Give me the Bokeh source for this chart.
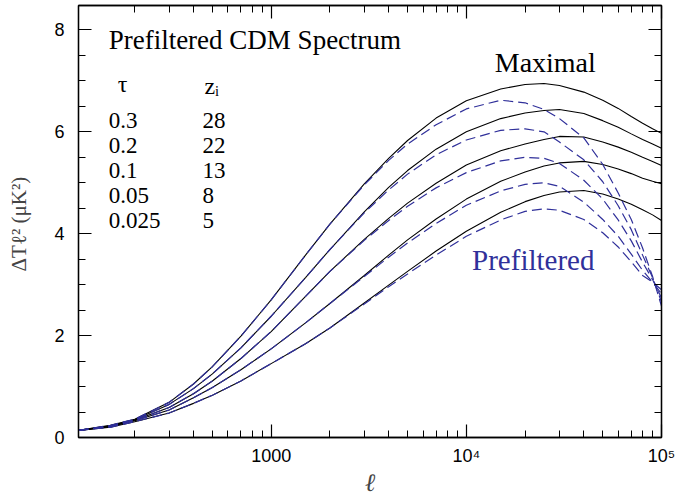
from bokeh.plotting import figure
from bokeh.models import LogAxis, LinearAxis, FixedTicker, Label, ColumnDataSource, Range1d
from bokeh.core.properties import value
from bokeh.embed import file_html
from bokeh.resources import INLINE

# multipole l
ell = [103, 150, 200, 300, 400, 500, 700, 1000, 1500, 2000, 3000, 4000, 5000, 7000,
       10000, 15000, 20000, 25000, 30000, 40000, 50000, 60000, 70000, 80000, 90000, 100000]

# Maximal (solid) spectra, one per tau
max_tau_030 = [0.14, 0.24, 0.36, 0.69, 1.05, 1.39, 1.99, 2.70, 3.58, 4.19, 4.98, 5.48, 5.83, 6.27,
               6.61, 6.84, 6.93, 6.95, 6.91, 6.78, 6.62, 6.46, 6.30, 6.17, 6.06, 5.97]
max_tau_020 = [0.14, 0.23, 0.35, 0.65, 0.96, 1.25, 1.76, 2.38, 3.14, 3.69, 4.43, 4.91, 5.24, 5.66,
               6.00, 6.26, 6.37, 6.42, 6.44, 6.36, 6.22, 6.09, 5.96, 5.85, 5.76, 5.68]
max_tau_010 = [0.14, 0.22, 0.34, 0.59, 0.86, 1.11, 1.55, 2.08, 2.77, 3.26, 3.89, 4.30, 4.60, 4.99,
               5.35, 5.63, 5.76, 5.85, 5.91, 5.90, 5.80, 5.70, 5.60, 5.50, 5.42, 5.34]
max_tau_005 = [0.14, 0.21, 0.33, 0.54, 0.78, 0.98, 1.33, 1.74, 2.25, 2.63, 3.18, 3.58, 3.88, 4.29,
               4.68, 5.03, 5.21, 5.33, 5.39, 5.42, 5.36, 5.27, 5.18, 5.09, 5.03, 4.98]
max_tau_0025 = [0.14, 0.20, 0.31, 0.48, 0.67, 0.83, 1.11, 1.45, 1.84, 2.15, 2.64, 2.99, 3.26, 3.66,
                4.05, 4.42, 4.63, 4.75, 4.82, 4.85, 4.78, 4.68, 4.58, 4.47, 4.37, 4.26]

# Prefiltered (dashed) spectra
pre_tau_030 = [0.14, 0.24, 0.36, 0.69, 1.05, 1.39, 1.99, 2.70, 3.58, 4.19, 4.96, 5.44, 5.76, 6.14,
               6.45, 6.62, 6.57, 6.44, 6.26, 5.88, 5.36, 4.80, 4.28, 3.72, 3.16, 2.58]
pre_tau_020 = [0.14, 0.23, 0.35, 0.65, 0.96, 1.25, 1.76, 2.38, 3.14, 3.69, 4.41, 4.86, 5.17, 5.55,
               5.84, 6.03, 6.06, 6.00, 5.80, 5.45, 5.02, 4.55, 4.08, 3.58, 3.14, 2.66]
pre_tau_010 = [0.14, 0.22, 0.34, 0.59, 0.86, 1.11, 1.55, 2.08, 2.77, 3.26, 3.87, 4.26, 4.54, 4.90,
               5.20, 5.43, 5.50, 5.48, 5.38, 5.05, 4.68, 4.27, 3.86, 3.44, 3.10, 2.74]
pre_tau_005 = [0.14, 0.21, 0.33, 0.54, 0.78, 0.98, 1.33, 1.74, 2.25, 2.63, 3.16, 3.54, 3.82, 4.20,
               4.56, 4.84, 4.97, 5.00, 4.93, 4.62, 4.28, 3.95, 3.60, 3.28, 3.05, 2.82]
pre_tau_0025 = [0.14, 0.20, 0.31, 0.48, 0.67, 0.83, 1.11, 1.45, 1.84, 2.15, 2.62, 2.96, 3.21, 3.58,
                3.95, 4.27, 4.44, 4.49, 4.46, 4.28, 4.02, 3.74, 3.45, 3.18, 3.05, 2.90]

# legend table
tau_labels = ["0.3", "0.2", "0.1", "0.05", "0.025"]
zi_labels = ["28", "22", "13", "8", "5"]

# tick values / labels
x_major = [1000, 10000, 100000]
x_major_labels = {1000: "1000", 10000: "10⁴", 100000: "10⁵"}
x_minor = [200, 300, 400, 500, 600, 700, 800, 900,
           2000, 3000, 4000, 5000, 6000, 7000, 8000, 9000,
           20000, 30000, 40000, 50000, 60000, 70000, 80000, 90000]
y_major = [0, 2, 4, 6, 8]
y_minor = [0.5, 1, 1.5, 2.5, 3, 3.5, 4.5, 5, 5.5, 6.5, 7, 7.5, 8.5]

BLUE = "#30309a"
SERIF = "Liberation Serif"
SANS = "Liberation Sans"

p = figure(width=676, height=498, x_axis_type="log",
           x_range=Range1d(103, 100000), y_range=Range1d(0, 8.48),
           output_backend="svg", toolbar_location=None,
           min_border_left=78, min_border_right=15, min_border_top=5, min_border_bottom=60)
p.xgrid.visible = False
p.ygrid.visible = False
p.outline_line_color = "black"
p.outline_line_width = 1.3
p.background_fill_color = "white"
p.border_fill_color = "white"

xa = p.below[0]
ya = p.left[0]

xt = FixedTicker(ticks=x_major, minor_ticks=x_minor)
yt = FixedTicker(ticks=y_major, minor_ticks=y_minor)

top = LogAxis(ticker=xt, major_label_overrides={t: "" for t in x_major})
right = LinearAxis(ticker=yt, major_label_overrides={t: "" for t in y_major})
p.add_layout(top, "above")
p.add_layout(right, "right")

for ax in [xa, ya, top, right]:
    ax.axis_line_color = "black"
    ax.axis_line_width = 1.3
    ax.major_tick_in = 13
    ax.major_tick_out = 0
    ax.minor_tick_in = 7
    ax.minor_tick_out = 0
    ax.major_tick_line_color = "black"
    ax.minor_tick_line_color = "black"
    ax.major_tick_line_width = 1.2
    ax.minor_tick_line_width = 1.0
    ax.major_label_text_font = SANS
    ax.major_label_text_color = "black"

for ax in [top, right]:
    ax.major_label_standoff = 0
    ax.major_label_text_font_size = "1px"

xa.ticker = xt
xa.major_label_overrides = x_major_labels
xa.major_label_text_font_size = "18px"
xa.major_label_standoff = 8
xa.axis_label = "ℓ"
xa.axis_label_text_font = SERIF
xa.axis_label_text_font_style = "italic"
xa.axis_label_text_font_size = "25px"
xa.axis_label_standoff = 0

ya.ticker = yt
ya.major_label_text_font_size = "18px"
ya.major_label_standoff = 14
ya.axis_label = "ΔTℓ²  (μK²)"
ya.axis_label_text_font = SERIF
ya.axis_label_text_font_style = "normal"
ya.axis_label_text_font_size = "21px"
ya.axis_label_standoff = 20

max_series = [max_tau_030, max_tau_020, max_tau_010, max_tau_005, max_tau_0025]
pre_series = [pre_tau_030, pre_tau_020, pre_tau_010, pre_tau_005, pre_tau_0025]

for ys in max_series:
    p.line(ell, ys, line_color="black", line_width=1.1)
for ys in pre_series:
    p.line(ell, ys, line_color=BLUE, line_width=1.2, line_dash="10 5")

# annotations
p.add_layout(Label(x=147, y=7.81, text="Prefiltered CDM Spectrum", text_font=SERIF,
                   text_font_size="27px", text_color="black", text_baseline="alphabetic"))
p.add_layout(Label(x=173, y=6.93, text="τ", text_font=SERIF, text_font_size="24px",
                   text_color="black", text_align="center", text_baseline="alphabetic"))
p.add_layout(Label(x=455, y=6.90, text="zᵢ", text_font=SERIF, text_font_size="24px",
                   text_color="black", text_baseline="alphabetic"))

row_y = [6.22 - 0.49 * i for i in range(len(tau_labels))]
src = ColumnDataSource(dict(tau=tau_labels, zi=zi_labels, y=row_y,
                            xt=[147] * len(tau_labels), xz=[445] * len(tau_labels)))
p.text(x="xt", y="y", text="tau", source=src, text_font=value(SERIF),
       text_font_size="23px", text_color="black", text_baseline="alphabetic")
p.text(x="xz", y="y", text="zi", source=src, text_font=value(SERIF),
       text_font_size="23px", text_color="black", text_baseline="alphabetic")

p.add_layout(Label(x=25380, y=7.36, text="Maximal", text_font=SERIF, text_font_size="28px",
                   text_color="black", text_align="center", text_baseline="middle"))
p.add_layout(Label(x=22030, y=3.48, text="Prefiltered", text_font=SERIF, text_font_size="29px",
                   text_color=BLUE, text_align="center", text_baseline="middle"))

open("out.html", "w").write(file_html(p, INLINE))
